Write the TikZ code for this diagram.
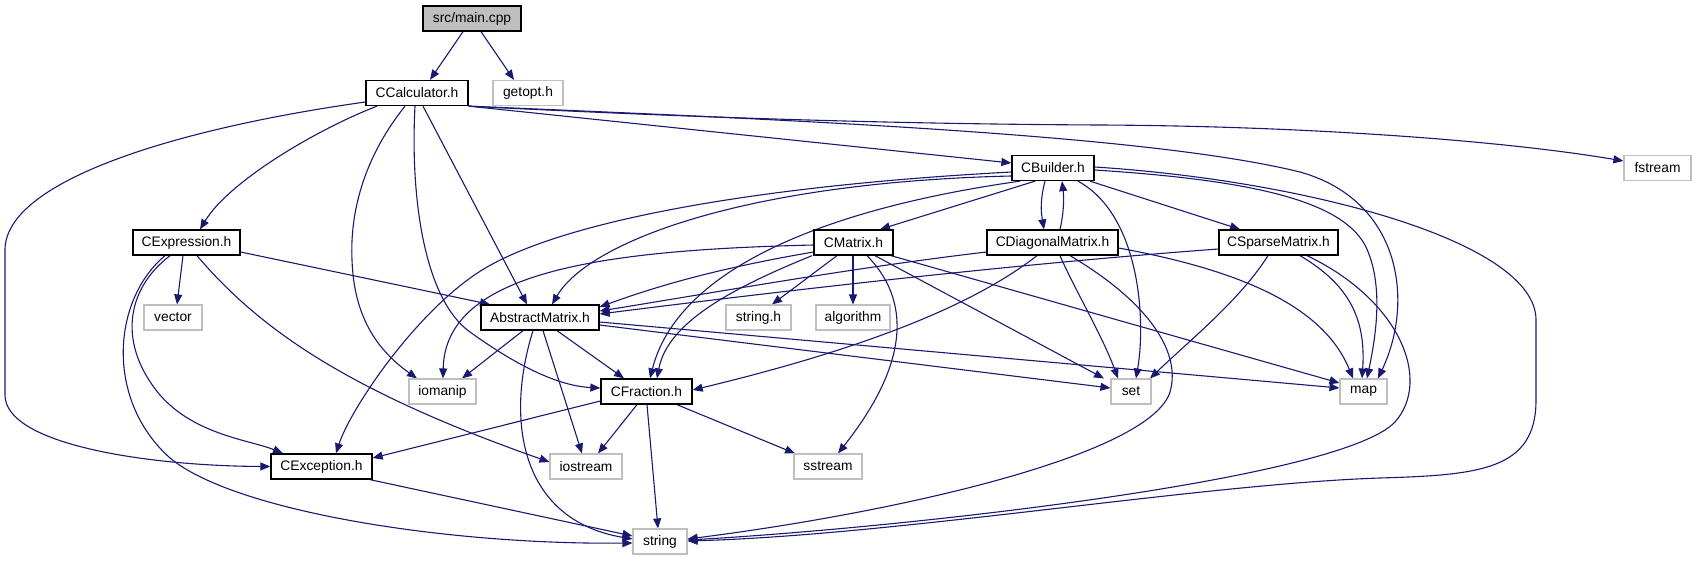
\documentclass[tikz,border=0pt]{standalone}
\usepackage{fontspec}
\setmainfont{Liberation Sans}
\usetikzlibrary{arrows.meta,backgrounds}
\definecolor{navyc}{HTML}{191970}
\definecolor{extgrey}{HTML}{BFBFBF}
\definecolor{mainfill}{HTML}{BFBFBF}
\newcommand{\doxfont}{\fontsize{13.8}{15}\selectfont}
\tikzset{
  doc/.style={draw=black, line width=1.3pt, fill=white, minimum height=25pt, inner sep=0pt, font=\doxfont},
  ext/.style={draw=extgrey, line width=1.1pt, fill=white, minimum height=25pt, inner sep=0pt, font=\doxfont},
  dep/.style={draw=navyc, line width=1.1pt, -{Triangle[length=10pt,width=8pt,fill=navyc]}},
}
\begin{document}
\begin{tikzpicture}[x=1pt,y=-1pt]
\useasboundingbox (0,0) rectangle (1696,560);
% row 0
\node[doc, fill=mainfill, minimum width=98pt] (mainc) at (472,18.5) {src/main.cpp};
% row 1
\node[doc, minimum width=102pt] (ccalc) at (417,93) {CCalculator.h};
\node[ext, minimum width=70pt] (getopt) at (528,93) {getopt.h};
% row 2
\node[doc, minimum width=82pt] (cbuild) at (1053,168) {CBuilder.h};
\node[ext, minimum width=67pt] (fstream) at (1657.5,168) {fstream};
% row 3
\node[doc, minimum width=107pt] (cexpr) at (186.5,242.5) {CExpression.h};
\node[doc, minimum width=79pt] (cmatrix) at (853.5,242.5) {CMatrix.h};
\node[doc, minimum width=131pt] (cdiag) at (1052.5,242.5) {CDiagonalMatrix.h};
\node[doc, minimum width=119pt] (csparse) at (1278.5,242.5) {CSparseMatrix.h};
% row 4
\node[ext, minimum width=58pt] (vector) at (173,317.5) {vector};
\node[doc, minimum width=118pt] (absm) at (540,317.5) {AbstractMatrix.h};
\node[ext, minimum width=65pt] (stringh) at (758.5,317.5) {string.h};
\node[ext, minimum width=74pt] (algo) at (853,317.5) {algorithm};
% row 5
\node[ext, minimum width=67pt] (iomanip) at (442.5,391.5) {iomanip};
\node[doc, minimum width=91pt] (cfrac) at (646.5,391.5) {CFraction.h};
\node[ext, minimum width=40pt] (set) at (1131,391.5) {set};
\node[ext, minimum width=47pt] (map) at (1363.5,391.5) {map};
% row 6
\node[doc, minimum width=101pt] (cexc) at (321.5,466.5) {CException.h};
\node[ext, minimum width=72pt] (iostream) at (586,466.5) {iostream};
\node[ext, minimum width=68pt] (sstream) at (828,466.5) {sstream};
% row 7
\node[ext, minimum width=54pt] (string) at (660,541.5) {string};

\begin{pgfonlayer}{background}
% src/main.cpp
\draw[dep] (463,0 |- mainc.south) -- (430,0 |- ccalc.north);
\draw[dep] (481,0 |- mainc.south) -- (514,0 |- getopt.north);
% CCalculator.h
\draw[dep] (ccalc.west |- 0,102) .. controls (180,128) and (5,180) .. (5,250) -- (5,395) .. controls (5,445) and (150,466) .. (cexc.west);
\draw[dep] (377,0 |- ccalc.south) .. controls (320,128) and (230,180) .. (200,0 |- cexpr.north);
\draw[dep] (405,0 |- ccalc.south) .. controls (362,160) and (350,215) .. (352,260) .. controls (354,320) and (380,352) .. (417,0 |- iomanip.north);
\draw[dep] (415,0 |- ccalc.south) .. controls (410,200) and (425,300) .. (470,332) .. controls (520,368) and (560,386) .. (cfrac.west |- 0,388);
\draw[dep] (423,0 |- ccalc.south) -- (527,0 |- absm.north);
\draw[dep] (ccalc.south east) -- (cbuild.west |- 0,163);
\draw[dep] (ccalc.south east) .. controls (700,118) and (900,124) .. (1100,125) .. controls (1300,126) and (1500,140) .. (fstream.west |- 0,161);
\draw[dep] (ccalc.south east) .. controls (800,120) and (1150,135) .. (1300,172) .. controls (1400,200) and (1415,300) .. (1378,0 |- map.north);
% CBuilder.h
\draw[dep] (cbuild.west |- 0,172) .. controls (750,186) and (560,222) .. (482,270) .. controls (415,312) and (350,410) .. (336,0 |- cexc.north);
\draw[dep] (cbuild.west |- 0,176) .. controls (750,182) and (590,240) .. (552,0 |- absm.north);
\draw[dep] (1020,0 |- cbuild.south) .. controls (850,205) and (680,260) .. (650,0 |- cfrac.north);
\draw[dep] (1035,0 |- cbuild.south) -- (880,0 |- cmatrix.north);
\draw[dep] (1045,0 |- cbuild.south) .. controls (1040,200) and (1041,212) .. (1044,0 |- cdiag.north);
\draw[dep] (1060,0 |- cdiag.north) .. controls (1064,212) and (1064,198) .. (1062,0 |- cbuild.south);
\draw[dep] (1090,0 |- cbuild.south) -- (1240,0 |- csparse.north);
\draw[dep] (1078,0 |- cbuild.south) .. controls (1140,215) and (1146,320) .. (1136,0 |- set.north);
\draw[dep] (cbuild.east |- 0,170) .. controls (1250,180) and (1340,200) .. (1365,245) .. controls (1385,285) and (1375,340) .. (1367,0 |- map.north);
\draw[dep] (cbuild.east |- 0,167) .. controls (1300,180) and (1536,240) .. (1536,320) -- (1536,400) .. controls (1536,470) and (1480,475) .. (1380,478) .. controls (1200,484) and (900,535) .. (string.east |- 0,541);
% CDiagonalMatrix.h
\draw[dep] (cdiag.west |- 0,252) .. controls (850,268) and (700,295) .. (absm.east |- 0,311);
\draw[dep] (1037,0 |- cdiag.south) .. controls (980,300) and (880,345) .. (cfrac.east |- 0,390);
\draw[dep] (1060,0 |- cdiag.south) .. controls (1075,290) and (1102,335) .. (1118,0 |- set.north);
\draw[dep] (cdiag.east |- 0,248) .. controls (1250,272) and (1325,310) .. (1353,0 |- map.north);
\draw[dep] (1070,0 |- cdiag.south) .. controls (1145,300) and (1182,350) .. (1170,392) .. controls (1150,455) and (900,512) .. (string.east |- 0,539);
% CSparseMatrix.h
\draw[dep] (csparse.west |- 0,249) .. controls (1000,265) and (750,295) .. (absm.east |- 0,314);
\draw[dep] (1268,0 |- csparse.south) .. controls (1240,300) and (1190,340) .. (1150,0 |- set.north);
\draw[dep] (1300,0 |- csparse.south) .. controls (1350,285) and (1366,320) .. (1362,0 |- map.north);
\draw[dep] (1307,0 |- csparse.south) .. controls (1400,300) and (1432,380) .. (1395,422) .. controls (1340,480) and (900,528) .. (string.east |- 0,540);
% CMatrix.h
\draw[dep] (cmatrix.west |- 0,245) .. controls (600,250) and (445,272) .. (443,0 |- iomanip.north);
\draw[dep] (cmatrix.west |- 0,252) .. controls (720,268) and (660,285) .. (absm.east |- 0,307);
\draw[dep] (812,0 |- cmatrix.south) .. controls (740,285) and (668,320) .. (657,0 |- cfrac.north);
\draw[dep] (837,0 |- cmatrix.south) -- (772,0 |- stringh.north);
\draw[dep] (853,0 |- cmatrix.south) -- (853,0 |- algo.north);
\draw[dep] (867,0 |- cmatrix.south) .. controls (930,320) and (880,400) .. (838,0 |- sstream.north);
\draw[dep] (875,0 |- cmatrix.south) -- (1104,0 |- set.north);
\draw[dep] (891,0 |- cmatrix.south) -- (map.west |- 0,383);
% AbstractMatrix.h
\draw[dep] (523,0 |- absm.south) -- (462,0 |- iomanip.north);
\draw[dep] (557,0 |- absm.south) -- (624,0 |- cfrac.north);
\draw[dep] (543,0 |- absm.south) -- (582,0 |- iostream.north);
\draw[dep] (533,0 |- absm.south) .. controls (505,420) and (520,520) .. (string.west |- 0,539);
\draw[dep] (absm.east |- 0,325) -- (set.west |- 0,388);
\draw[dep] (absm.east |- 0,322) -- (map.west |- 0,388);
% CExpression.h
\draw[dep] (cexpr.east |- 0,252) -- (490,0 |- absm.north);
\draw[dep] (183,0 |- cexpr.south) -- (177,0 |- vector.north);
\draw[dep] (197,0 |- cexpr.south) .. controls (260,330) and (350,392) .. (iostream.west |- 0,462);
\draw[dep] (170,0 |- cexpr.south) .. controls (125,290) and (118,345) .. (160,395) .. controls (195,435) and (250,440) .. (283,0 |- cexc.north);
\draw[dep] (165,0 |- cexpr.south) .. controls (112,300) and (105,400) .. (170,458) .. controls (235,512) and (450,545) .. (string.west |- 0,543);
% CFraction.h
\draw[dep] (cfrac.west |- 0,401) -- (cexc.east |- 0,458);
\draw[dep] (637,0 |- cfrac.south) -- (598,0 |- iostream.north);
\draw[dep] (647,0 |- cfrac.south) -- (658,0 |- string.north);
\draw[dep] (677,0 |- cfrac.south) -- (795,0 |- sstream.north);
% CException.h
\draw[dep] (370,0 |- cexc.south) -- (string.west |- 0,536);
\end{pgfonlayer}
\end{tikzpicture}
\end{document}
